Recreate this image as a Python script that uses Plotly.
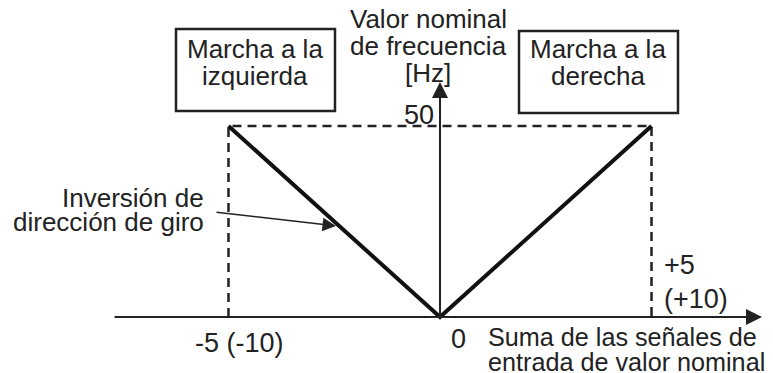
import plotly.graph_objects as go

# ---------------- data ----------------
signal_sum = [-5, 0, 5]          # Suma de las señales de entrada (V)
freq_hz = [50, 0, 50]            # Valor nominal de frecuencia (Hz)
x_limit_labels = ["-5 (-10)", "+5", "(+10)"]
origin_label = "0"
f_max = 50
x_limit = 5
y_title = ["Valor nominal", "de frecuencia", "[Hz]"]
x_title = ["Suma de las señales de", "entrada de valor nominal"]
left_box = ["Marcha a la", "izquierda"]
right_box = ["Marcha a la", "derecha"]
inv_label = ["Inversión de", "dirección de giro"]

# ---------------- layout calibration ----------------
# page body has an 8px margin, so the figure is drawn 8px lower/right
OFF = 8
W, H = 773 - OFF, 373 - OFF
X0_PX, PX_PER_X = 440 - OFF, 42.3
Y0_PX, PX_PER_Y = 317 - OFF, 3.82
x_range = [-X0_PX / PX_PER_X, (W - X0_PX) / PX_PER_X]
y_range = [-(H - Y0_PX) / PX_PER_Y, Y0_PX / PX_PER_Y]


def dx(px):  # screen pixel -> data x
    return (px - OFF - X0_PX) / PX_PER_X


def dy(py):  # screen pixel -> data y
    return (Y0_PX - (py - OFF)) / PX_PER_Y


FONT = "Liberation Sans, Arial, sans-serif"
TXT = "#222222"
FS = 26

fig = go.Figure()

# dashed limit frame
fig.add_trace(go.Scatter(
    x=[-x_limit, -x_limit, x_limit, x_limit],
    y=[0, f_max, f_max, 0],
    mode="lines",
    line=dict(color="#222222", width=2.5, dash="9px,6px"),
    hoverinfo="skip", showlegend=False))

# characteristic V
fig.add_trace(go.Scatter(
    x=signal_sum, y=freq_hz, mode="lines",
    line=dict(color="#111111", width=4),
    hoverinfo="skip", showlegend=False))

ann = []
# x axis arrow
ann.append(dict(x=dx(762), y=0, ax=dx(113), ay=0, xref="x", yref="y",
                axref="x", ayref="y", text="", showarrow=True,
                arrowhead=2, arrowsize=1.6, arrowwidth=2, arrowcolor="#222222",
                standoff=0, startstandoff=0))
# y axis arrow
ann.append(dict(x=0, y=dy(82), ax=0, ay=0, xref="x", yref="y",
                axref="x", ayref="y", text="", showarrow=True,
                arrowhead=2, arrowsize=1.6, arrowwidth=2, arrowcolor="#222222",
                standoff=0, startstandoff=0))
# inversion pointer arrow
ann.append(dict(x=dx(336), y=dy(226), ax=dx(215), ay=dy(212), xref="x", yref="y",
                axref="x", ayref="y", text="", showarrow=True,
                arrowhead=2, arrowsize=1.8, arrowwidth=1.5, arrowcolor="#222222",
                standoff=0, startstandoff=0))


def txt(s, x, y, xanchor="center", size=FS):
    ann.append(dict(text=s, x=x, y=y, xref="x", yref="y", showarrow=False,
                    xanchor=xanchor, yanchor="middle",
                    font=dict(family=FONT, size=size, color=TXT)))


# y-axis title
for i, s in enumerate(y_title):
    txt(s, dx(428), dy(19 + 27 * i))
# boxes text
for i, s in enumerate(left_box):
    txt(s, dx(255), dy(49 + 27 * i))
for i, s in enumerate(right_box):
    txt(s, dx(598), dy(49 + 27 * i))
# inversion label
for i, s in enumerate(inv_label):
    txt(s, dx(206), dy(198 + 24 * i), xanchor="right")
# tick-like labels
txt(str(f_max), -0.1, f_max + 3, xanchor="right", size=27)
txt(x_limit_labels[0], -x_limit + 0.27, dy(343), size=27)
txt(x_limit_labels[1], x_limit + 0.25, dy(265), xanchor="left", size=27)
txt(x_limit_labels[2], x_limit + 0.25, dy(299), xanchor="left", size=27)
txt(origin_label, 0.43, dy(339), size=27)
for i, s in enumerate(x_title):
    txt(s, dx(486), dy(337 + 25 * i), xanchor="left", size=25.2)

shapes = [
    dict(type="rect", xref="x", yref="y", x0=dx(176), x1=dx(335), y0=dy(29), y1=dy(111),
         line=dict(color="#222222", width=2.5)),
    dict(type="rect", xref="x", yref="y", x0=dx(519), x1=dx(678), y0=dy(31), y1=dy(113),
         line=dict(color="#222222", width=2.5)),
]

fig.update_layout(
    width=W, height=H, margin=dict(l=0, r=0, t=0, b=0),
    paper_bgcolor="white", plot_bgcolor="white",
    xaxis=dict(range=x_range, visible=False, fixedrange=True),
    yaxis=dict(range=y_range, visible=False, fixedrange=True),
    annotations=ann, shapes=shapes, showlegend=False)

fig.write_html("out.html")
